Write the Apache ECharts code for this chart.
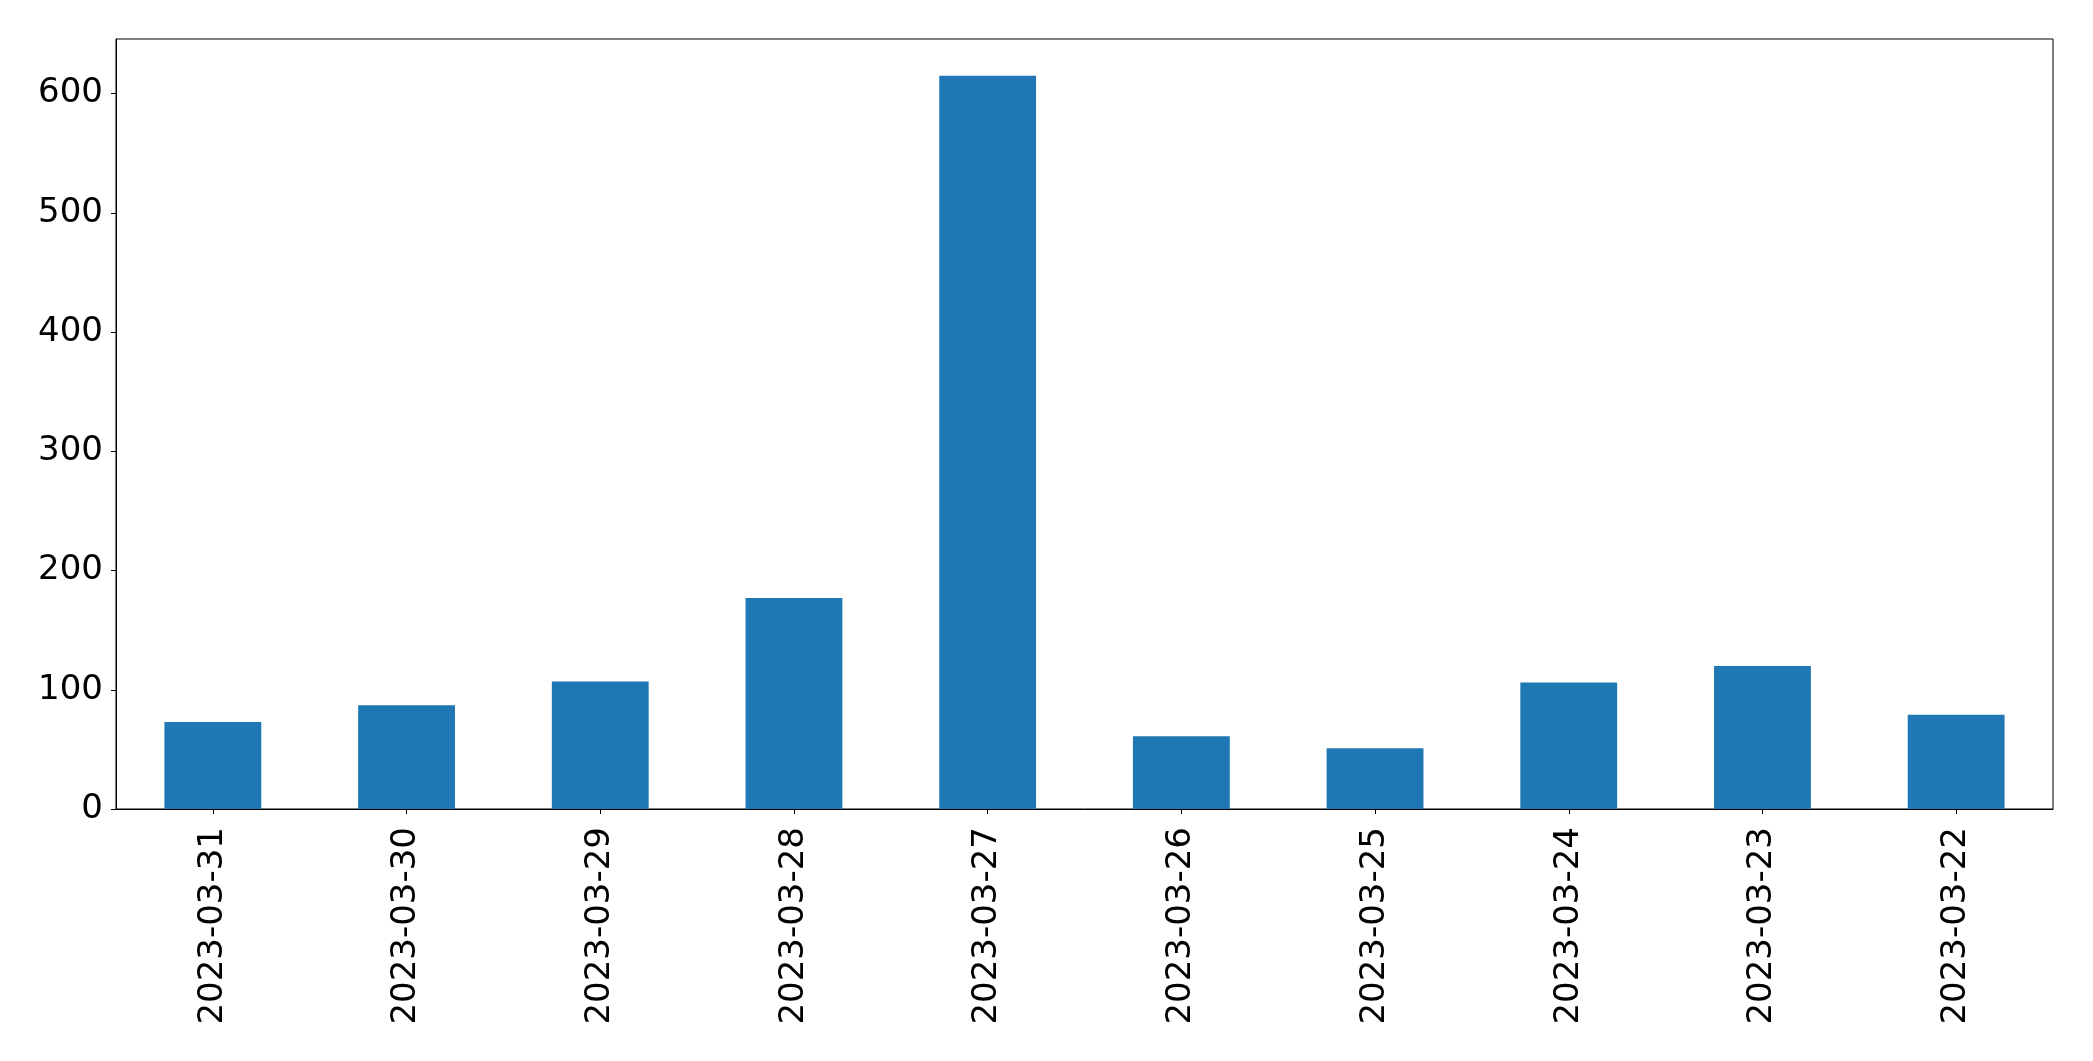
<!DOCTYPE html>
<html>
<head>
<meta charset="utf-8">
<script src="https://cdn.jsdelivr.net/npm/echarts@6/dist/echarts.min.js"></script>
<style>
html,body{margin:0;padding:0;background:#fff;}
#chart{width:2093px;height:1061px;}
</style>
</head>
<body>
<div id="chart"></div>
<script>
const categories = ['2023-03-31','2023-03-30','2023-03-29','2023-03-28','2023-03-27','2023-03-26','2023-03-25','2023-03-24','2023-03-23','2023-03-22'];
const values = [73, 87, 107, 177, 615, 61, 51, 106, 120, 79];
const yMax = 645.75;

const chart = echarts.init(document.getElementById('chart'));
const font = 'DejaVu Sans';
chart.setOption({
  animation: false,
  backgroundColor: '#ffffff',
  grid: {left: 116, top: 39, right: 40, bottom: 252, show: true, borderColor: '#000', borderWidth: 1, backgroundColor: 'transparent'},
  xAxis: {
    type: 'category',
    data: categories,
    axisLine: {show: true, lineStyle: {color: '#000', width: 1}},
    axisTick: {show: true, alignWithLabel: true, length: 5, lineStyle: {color: '#000', width: 1}},
    axisLabel: {rotate: 90, margin: 18, color: '#000', fontFamily: font, fontSize: 34, interval: 0},
    splitLine: {show: false}
  },
  yAxis: {
    type: 'value',
    min: 0,
    max: yMax,
    interval: 100,
    axisLine: {show: true, lineStyle: {color: '#000', width: 1}},
    axisTick: {show: true, length: 5, lineStyle: {color: '#000', width: 1}},
    axisLabel: {margin: 13, color: '#000', fontFamily: font, fontSize: 34, showMaxLabel: false},
    splitLine: {show: false}
  },
  series: [{
    type: 'bar',
    data: values,
    barWidth: '50%',
    itemStyle: {color: '#1f77b4'}
  }]
});
</script>
</body>
</html>
